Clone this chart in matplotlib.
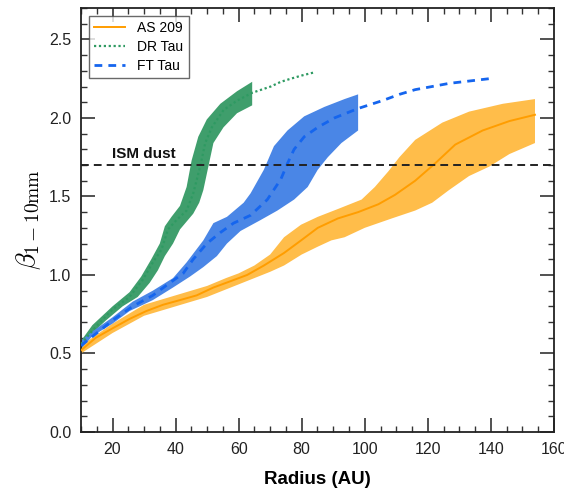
"""Radial profile of the dust opacity index beta for three discs."""

import matplotlib
matplotlib.use("Agg")
import matplotlib.pyplot as plt
from matplotlib.ticker import MultipleLocator
import numpy as np

plt.rcParams["font.family"] = ["Liberation Sans", "DejaVu Sans"]
plt.rcParams["mathtext.fontset"] = "cm"

# ---------------------------------------------------------------------------
# Data (radius in AU, beta)
# ---------------------------------------------------------------------------
as209_x = [10, 14.7, 20, 25.4, 30.7, 36, 41.4, 46.7, 52, 57.4, 62.7, 68, 74.4,
           79.8, 85.1, 91.5, 97.9, 104.3, 109.6, 116, 122.3, 128.7, 137.4, 145.9, 154]
as209_y = [0.52, 0.60, 0.66, 0.72, 0.77, 0.81, 0.84, 0.87, 0.92, 0.96, 1.00, 1.06, 1.14,
           1.22, 1.30, 1.36, 1.40, 1.45, 1.51, 1.60, 1.71, 1.83, 1.92, 1.98, 2.02]
as209_up_x = [10, 20, 30, 40, 50, 56, 60, 65, 70, 74.4, 79.8, 85.1, 91.5, 99, 103.2,
              107.5, 111, 116, 124.6, 133.1, 143.8, 154]
as209_up_y = [0.55, 0.69, 0.81, 0.87, 0.93, 0.98, 1.01, 1.06, 1.13, 1.24, 1.32, 1.37, 1.42,
              1.48, 1.56, 1.66, 1.75, 1.86, 1.97, 2.04, 2.09, 2.12]
as209_lo_x = [10, 20, 30, 40, 50, 60, 65, 70, 74.4, 80, 85.1, 89.4, 93.6, 100, 108.6,
              116, 121.4, 126.7, 133.1, 139.5, 145.9, 154]
as209_lo_y = [0.50, 0.63, 0.74, 0.80, 0.86, 0.94, 0.98, 1.02, 1.06, 1.13, 1.18, 1.22, 1.24,
              1.30, 1.36, 1.41, 1.46, 1.54, 1.63, 1.69, 1.77, 1.84]

drtau_x = [10, 14.7, 20, 25.4, 29.6, 32.8, 35.5, 37.6, 40.3, 43.5, 45.6, 47.8, 49.4,
           51.5, 55.2, 59.5, 64.3, 70.2, 73.4, 76.6, 80, 84]
drtau_y = [0.56, 0.67, 0.78, 0.86, 0.97, 1.08, 1.16, 1.29, 1.35, 1.41, 1.52, 1.69, 1.84,
           1.94, 2.05, 2.11, 2.16, 2.20, 2.23, 2.25, 2.27, 2.29]
drtau_up_x = [10, 13.6, 20, 25.4, 29.1, 32.3, 35, 36.6, 38.7, 41.4, 43.5, 45.1, 47.2,
              49.9, 54.2, 59.5, 64.3]
drtau_up_y = [0.58, 0.68, 0.80, 0.89, 0.99, 1.10, 1.20, 1.31, 1.37, 1.44, 1.56, 1.73, 1.88,
              1.99, 2.09, 2.17, 2.23]
drtau_lo_x = [10, 12.6, 17.9, 23.2, 28, 31.8, 34.4, 36.6, 39.2, 41.4, 45.6, 47.5, 48.8,
              50.4, 52, 55.2, 59.5, 64.3]
drtau_lo_y = [0.55, 0.61, 0.71, 0.80, 0.86, 0.95, 1.03, 1.12, 1.20, 1.29, 1.39, 1.46, 1.54,
              1.69, 1.84, 1.94, 2.03, 2.08]

fttau_x = [10, 20, 26.4, 32.8, 38.2, 42.4, 45.6, 49.9, 54.2, 58.4, 63.8, 69.1, 73.4, 75.5,
           77.6, 80.8, 85.1, 90.4, 97.9, 105.6, 111, 116, 126.8, 139.6]
fttau_y = [0.55, 0.71, 0.80, 0.87, 0.95, 1.01, 1.10, 1.20, 1.27, 1.33, 1.38, 1.48, 1.61, 1.71,
           1.80, 1.88, 1.94, 2.00, 2.06, 2.11, 2.15, 2.18, 2.22, 2.25]
fttau_up_x = [10, 13.6, 20, 26.4, 32.8, 39.2, 43.5, 48.8, 52, 56.3, 61.6, 63.8, 68, 71.2,
              75.5, 80.8, 87.2, 93.6, 97.9]
fttau_up_y = [0.58, 0.64, 0.73, 0.83, 0.90, 0.98, 1.08, 1.22, 1.33, 1.37, 1.46, 1.52, 1.67,
              1.82, 1.92, 2.01, 2.07, 2.12, 2.15]
fttau_lo_x = [10, 13.6, 20, 25.4, 32.8, 39.2, 44.6, 48.8, 53.1, 56.3, 60.6, 67, 72.3, 77.6,
              81.9, 85.1, 88.3, 92.6, 97.9]
fttau_lo_y = [0.53, 0.61, 0.69, 0.77, 0.84, 0.92, 0.99, 1.05, 1.12, 1.20, 1.28, 1.35, 1.41,
              1.48, 1.56, 1.67, 1.75, 1.84, 1.92]

ism_beta = 1.7


def band(ax, up_x, up_y, lo_x, lo_y, color):
    """Fill the region between an upper and a lower edge polyline."""
    xs = np.concatenate([up_x, lo_x[::-1]])
    ys = np.concatenate([up_y, lo_y[::-1]])
    ax.fill(xs, ys, color=color, lw=0, zorder=2)


fig = plt.figure(figsize=(5.64, 4.90), dpi=100)
ax = fig.add_axes([0.1436, 0.1184, 0.8385, 0.8653])

band(ax, as209_up_x, as209_up_y, as209_lo_x, as209_lo_y, "#ffbd4a")
band(ax, drtau_up_x, drtau_up_y, drtau_lo_x, drtau_lo_y, "#3f9e6c")
band(ax, fttau_up_x, fttau_up_y, fttau_lo_x, fttau_lo_y, "#4a86e6")

ax.plot(as209_x, as209_y, color="#ff9d00", lw=1.4, label="AS 209", zorder=3)
ax.plot(drtau_x, drtau_y, color="#2e9a62", lw=1.6, ls=(0, (1, 1.2)),
        label="DR Tau", zorder=3)
ax.plot(fttau_x, fttau_y, color="#1565ee", lw=2.0, ls=(0, (2.8, 2.2)),
        label="FT Tau", zorder=3)

ax.axhline(ism_beta, color="#222222", lw=1.4, ls=(0, (4, 2.6)), zorder=4)
ax.text(19.8, 1.745, "ISM dust", fontsize=11, fontweight="bold", color="#111111")

ax.set_xlim(10, 160)
ax.set_ylim(0, 2.7)
ax.xaxis.set_major_locator(MultipleLocator(20))
ax.xaxis.set_minor_locator(MultipleLocator(5))
ax.yaxis.set_major_locator(MultipleLocator(0.5))
ax.yaxis.set_minor_locator(MultipleLocator(0.1))
ax.tick_params(which="both", direction="in", top=True, right=True,
               colors="#333333", labelcolor="#222222", labelsize=11.5)
ax.tick_params(which="major", length=10, width=1.2, pad=7)
ax.tick_params(which="minor", length=4.5, width=1.0)
for sp in ax.spines.values():
    sp.set_linewidth(1.3)
    sp.set_color("#222222")

ax.set_xlabel("Radius (AU)", fontsize=13.5, fontweight="bold", labelpad=10)
ax.set_ylabel(r"$\beta_{1-10\mathrm{mm}}$", fontsize=20, labelpad=4)

leg = ax.legend(loc="upper left", fontsize=10, frameon=True, fancybox=False,
                handlelength=2.2, handletextpad=0.9, borderpad=0.4,
                labelspacing=0.35, bbox_to_anchor=(0.0, 1.0), borderaxespad=0.55)
leg.get_frame().set_edgecolor("#444444")
leg.get_frame().set_linewidth(1.0)

fig.savefig("out.png", dpi=100)
